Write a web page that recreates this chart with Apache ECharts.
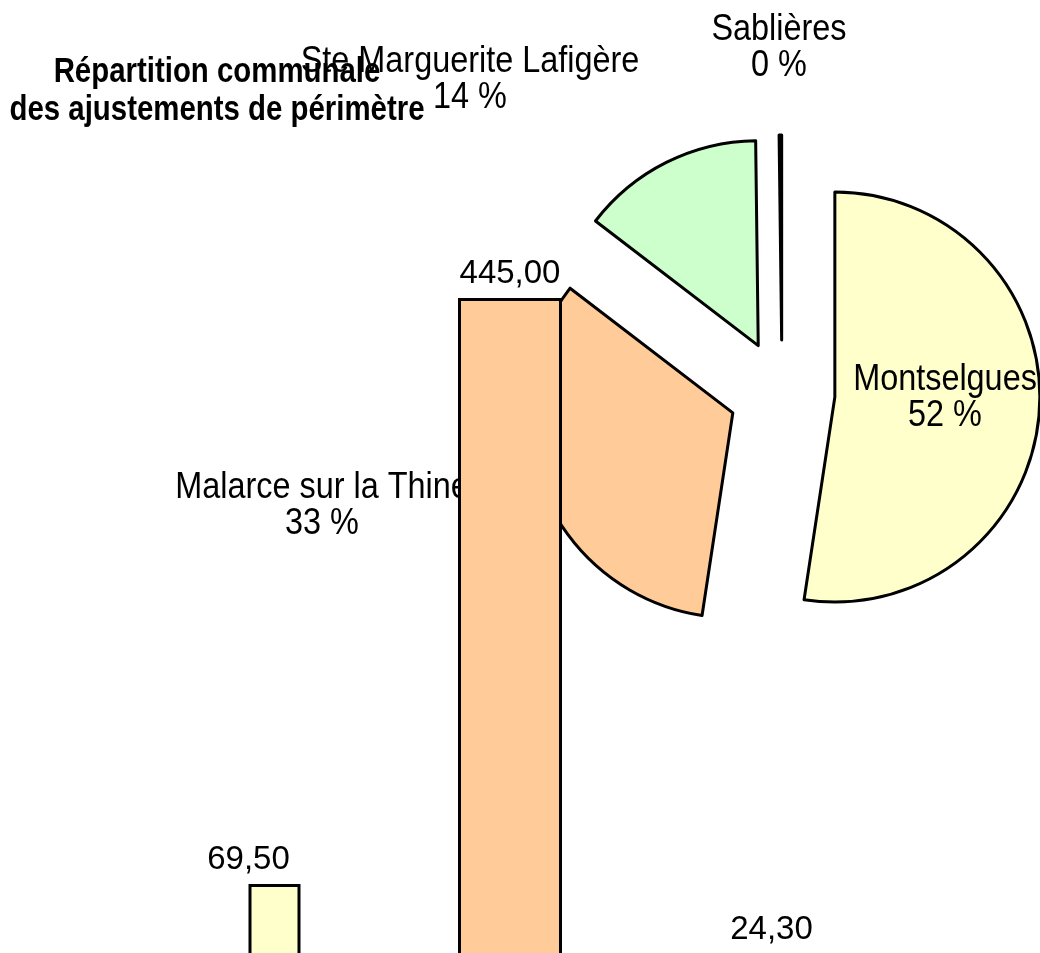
<!DOCTYPE html>
<html>
<head>
<meta charset="utf-8">
<script src="https://cdn.jsdelivr.net/npm/echarts@6/dist/echarts.min.js"></script>
<style>
    html, body { margin: 0; padding: 0; background: #fff; }
    #chart { width: 1040px; height: 953px; }
</style>
</head>
<body>
<div id="chart"></div>
<script>
// communes et parts (%) du camembert
let communes = ['Montselgues', 'Malarce sur la Thine', 'Ste Marguerite Lafigère', 'Sablières'];
let parts = [52.4, 33.0, 14.4, 0.2];
let pieColors = ['#ffffcc', '#ffcc99', '#ccffcc', '#ccccff'];

// histogramme des ajustements
let barCats = ['Montselgues', 'Malarce sur la Thine', 'Ste Marguerite Lafigère'];
let barValues = [69.5, 445.0, 24.3];

let titleText = 'Répartition communale\ndes ajustements de périmètre';

let font = "'Liberation Sans Narrow', 'Liberation Sans', Arial, sans-serif";

// position des étiquettes du camembert (comme dans l'original)
let pieLabelPos = [[945, 398], [322, 506], [470, 80], [779, 48]];

let fmtNum = v => v.toFixed(2).replace('.', ',');

let chart = echarts.init(document.getElementById('chart'));

let total = parts.reduce((a, b) => a + b, 0);

// étiquettes du camembert : nom + pourcentage (au-dessus du camembert, sous les barres)
let pieLabels = communes.map((c, i) => ({
    type: 'text',
    x: pieLabelPos[i][0],
    y: pieLabelPos[i][1],
    scaleX: 0.9,
    z: 4,
    style: {
        text: c + '\n' + Math.round(parts[i] / total * 100) + ' %',
        fontFamily: font,
        fontSize: 36,
        lineHeight: 36,
        fill: '#000',
        align: 'center',
        verticalAlign: 'middle'
    }
}));

let wideData = barValues.map((v, i) => i === 1 ? {value: v, itemStyle: {color: pieColors[i]}} : '-');
let narrowData = barValues.map((v, i) => i !== 1 ? {value: v, itemStyle: {color: pieColors[i]}} : '-');

let barLabel = {
    show: true,
    position: 'top',
    distance: 8,
    fontFamily: font,
    fontSize: 33,
    color: '#000',
    formatter: p => fmtNum(p.value)
};

let option = {
    backgroundColor: '#fff',
    animation: false,
    // titre + étiquettes en police étroite (mise à l'échelle horizontale)
    graphic: [{
        type: 'text',
        x: 217,
        y: 91,
        scaleX: 0.84,
        z: 1,
        style: {
            text: titleText,
            fontFamily: font,
            fontSize: 35,
            fontWeight: 'bold',
            lineHeight: 38,
            fill: '#000',
            align: 'center',
            verticalAlign: 'middle'
        }
    }].concat(pieLabels),
    grid: {
        left: 117.75,
        width: 784.5,
        top: 212.2,
        bottom: 0,
        containLabel: false
    },
    xAxis: {
        type: 'category',
        data: barCats,
        show: false
    },
    // la base des barres (0) se trouve sous le bas de l'image
    yAxis: {
        type: 'value',
        min: 25.3,
        max: 500,
        show: false
    },
    series: [{
        type: 'pie',
        z: 2,
        center: [782, 393],
        radius: 205,
        startAngle: 90,
        clockwise: true,
        selectedMode: 'multiple',
        selectedOffset: 53,
        itemStyle: {borderColor: '#000', borderWidth: 3},
        select: {itemStyle: {borderColor: '#000', borderWidth: 3}},
        emphasis: {disabled: true},
        label: {show: false},
        labelLine: {show: false},
        data: communes.map((c, i) => ({
            name: c,
            value: parts[i],
            selected: true,
            itemStyle: {color: pieColors[i]}
        }))
    }, {
        type: 'bar',
        z: 10,
        clip: false,
        barWidth: 104,
        barGap: '-50%',
        itemStyle: {borderColor: '#000', borderWidth: 3},
        label: barLabel,
        data: wideData
    }, {
        type: 'bar',
        z: 10,
        clip: false,
        barWidth: 52,
        itemStyle: {borderColor: '#000', borderWidth: 3},
        label: Object.assign({}, barLabel, {offset: [-26, 0]}),
        data: narrowData
    }]
};

chart.setOption(option);
</script>
</body>
</html>
